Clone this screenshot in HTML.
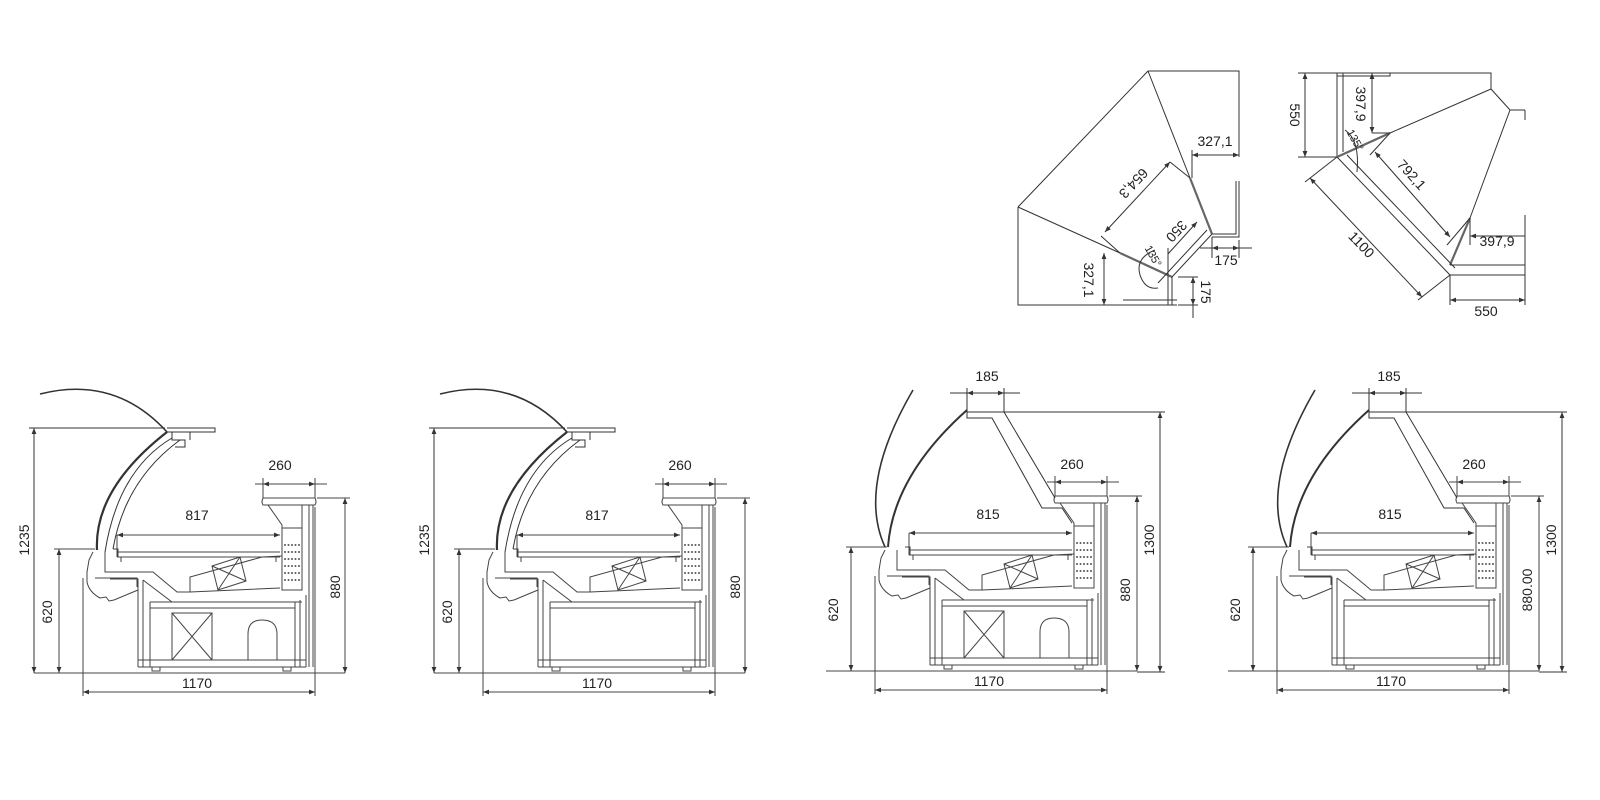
<!DOCTYPE html>
<html><head><meta charset="utf-8"><style>
html,body{margin:0;padding:0;background:#fff}
svg{display:block}
text{font-family:"Liberation Sans Narrow","Liberation Sans",sans-serif;font-size:14px;fill:#222}
</style></head><body>
<svg width="1600" height="800" viewBox="0 0 1600 800" xmlns="http://www.w3.org/2000/svg">
<defs>
<marker id="a" viewBox="0 0 10 10" refX="10" refY="5" markerWidth="7" markerHeight="6" orient="auto-start-reverse" markerUnits="userSpaceOnUse"><path d="M0,1 L10,5 L0,9 z" fill="#333"/></marker>
<g id="lower" fill="none" stroke="#444" stroke-width="1">
 <path d="M117,535 V557 M117,552 H280 M117,557 H280 M121,557 V562 M276,557 V562"/>
 <path d="M105,552 V572 H153 L177,592 H190 M113,549 H118 V557"/>
 <path d="M95,578 H137 V587 M143,580 L172,602 H302"/>
 <path d="M93,552 L89,560 L87,572 L87,582 Q89,592 100,598 L106,597 L109,601 L114,600 L138,590 V579 H110"/>
 <path d="M190,592 V577 L262,557 L282,556 M190,592 L280,588"/>
 <path d="M212,566 L240,557 L246,581 L218,590 Z M212,566 L246,581 M240,557 L218,590"/>
 <path d="M263,498 H315 Q317,502 315,505 H263 Q261,502 263,498 Z"/>
 <path d="M268,505 L282,525 V590 H302 V505 M282,528 H302 M309,505 V667 M313,505 V667"/>
 <path d="M138,587 V667 M143,580 V667 M150,602 V667 M150,602 H295 M150,608 H295 M295,602 V667 M300,600 V667 M306,595 V667 M138,660 H306 M138,667 H306"/>
 <path d="M152,667 h8 v4 h-8z M283,667 h8 v4 h-8z"/>
 <path d="M34,673 H345"/>
 <path d="M59,549 V673" marker-start="url(#a)" marker-end="url(#a)"/>
 <path d="M54,549 H95"/>
 <path d="M83,578 V696 M315,507 V696"/>
 <path d="M83,692 H315" marker-start="url(#a)" marker-end="url(#a)"/>
 <path d="M345,498 V673" marker-start="url(#a)" marker-end="url(#a)"/>
 <path d="M317,498 H350"/>
 <path d="M255,484 H263 M315,484 H327"/>
 <path d="M263,484 H315" marker-start="url(#a)" marker-end="url(#a)"/>
 <path d="M263,478 V498 M315,478 V498"/>
 <path d="M117,535 H280" marker-start="url(#a)" marker-end="url(#a)"/>
</g>
<g id="dots" fill="#555">
 <circle cx="285" cy="545" r="1"/><circle cx="288.5" cy="545" r="1"/><circle cx="292" cy="545" r="1"/><circle cx="295.5" cy="545" r="1"/><circle cx="299" cy="545" r="1"/>
 <circle cx="285" cy="552" r="1"/><circle cx="288.5" cy="552" r="1"/><circle cx="292" cy="552" r="1"/><circle cx="295.5" cy="552" r="1"/><circle cx="299" cy="552" r="1"/>
 <circle cx="285" cy="559" r="1"/><circle cx="288.5" cy="559" r="1"/><circle cx="292" cy="559" r="1"/><circle cx="295.5" cy="559" r="1"/><circle cx="299" cy="559" r="1"/>
 <circle cx="285" cy="566" r="1"/><circle cx="288.5" cy="566" r="1"/><circle cx="292" cy="566" r="1"/><circle cx="295.5" cy="566" r="1"/><circle cx="299" cy="566" r="1"/>
 <circle cx="285" cy="573" r="1"/><circle cx="288.5" cy="573" r="1"/><circle cx="292" cy="573" r="1"/><circle cx="295.5" cy="573" r="1"/><circle cx="299" cy="573" r="1"/>
 <circle cx="285" cy="580" r="1"/><circle cx="288.5" cy="580" r="1"/><circle cx="292" cy="580" r="1"/><circle cx="295.5" cy="580" r="1"/><circle cx="299" cy="580" r="1"/>
</g>
<g id="inside" fill="none" stroke="#444" stroke-width="1">
 <path d="M172,613 H212 V660 H172 Z M172,613 L212,660 M212,613 L172,660"/>
 <path d="M248,660 V634 Q248,620 262,620 Q277,620 277,634 V660"/>
</g>
<g id="top1" fill="none" stroke="#333">
 <path d="M40,394 Q115,375 167,432" stroke-width="1.6"/>
 <path d="M167,432 Q94,489 97,550" stroke-width="2.2"/>
 <path d="M172,438 Q118,470 105,552" stroke-width="1"/>
 <path d="M180,440 Q125,480 113,549" stroke-width="1"/>
 <path d="M167,428 H215 V432 H167 M172,432 V440 H185 V447 H175 M185,432 H190 V440" stroke-width="1"/>
 <path d="M34,428 V673" stroke-width="1" marker-start="url(#a)" marker-end="url(#a)"/>
 <path d="M29,428 H165" stroke-width="1"/>
</g>
<g id="top3" fill="none" stroke="#333">
 <path d="M913,390 Q857,486 885,547" stroke-width="1.6"/>
 <path d="M967,410 Q893,476 888,547" stroke-width="2"/>
 <path d="M967,412 V418 H992 L1042,508 H1062 L1072,523 M1004,412 L1055,498 M967,412 H1165" stroke-width="1"/>
 <path d="M967,388 V412 M1004,388 V412" stroke-width="1"/>
 <path d="M967,393 H1004" stroke-width="1" marker-start="url(#a)" marker-end="url(#a)"/>
 <path d="M950,393 H1020" stroke-width="1"/>
 <path d="M1160,412 V672" stroke-width="1" marker-start="url(#a)" marker-end="url(#a)"/>
 <path d="M1137,672 H1165" stroke-width="1"/>
</g>
</defs>

<use href="#lower"/><use href="#dots"/><use href="#inside"/><use href="#top1"/>
<text x="197" y="520" text-anchor="middle">817</text>
<text x="280" y="470" text-anchor="middle">260</text>
<text x="197" y="688" text-anchor="middle">1170</text>
<text transform="translate(52,612) rotate(-90)" text-anchor="middle">620</text>
<text transform="translate(29,540) rotate(-90)" text-anchor="middle">1235</text>
<text transform="translate(340,587) rotate(-90)" text-anchor="middle">880</text>

<g transform="translate(400,0)"><use href="#lower"/><use href="#dots"/><use href="#top1"/></g>
<text x="597" y="520" text-anchor="middle">817</text>
<text x="680" y="470" text-anchor="middle">260</text>
<text x="597" y="688" text-anchor="middle">1170</text>
<text transform="translate(452,612) rotate(-90)" text-anchor="middle">620</text>
<text transform="translate(429,540) rotate(-90)" text-anchor="middle">1235</text>
<text transform="translate(740,587) rotate(-90)" text-anchor="middle">880</text>

<g transform="translate(792,-2)"><use href="#lower"/><use href="#dots"/><use href="#inside"/></g>
<use href="#top3"/>
<text x="988" y="519" text-anchor="middle">815</text>
<text x="1072" y="469" text-anchor="middle">260</text>
<text x="987" y="381" text-anchor="middle">185</text>
<text x="989" y="686" text-anchor="middle">1170</text>
<text transform="translate(838,610) rotate(-90)" text-anchor="middle">620</text>
<text transform="translate(1130,590) rotate(-90)" text-anchor="middle">880</text>
<text transform="translate(1154,540) rotate(-90)" text-anchor="middle">1300</text>

<g transform="translate(1194,-2)"><use href="#lower"/><use href="#dots"/></g>
<g transform="translate(402,0)"><use href="#top3"/></g>
<text x="1390" y="519" text-anchor="middle">815</text>
<text x="1474" y="469" text-anchor="middle">260</text>
<text x="1389" y="381" text-anchor="middle">185</text>
<text x="1391" y="686" text-anchor="middle">1170</text>
<text transform="translate(1240,610) rotate(-90)" text-anchor="middle">620</text>
<text transform="translate(1532,590) rotate(-90)" text-anchor="middle">880.00</text>
<text transform="translate(1556,540) rotate(-90)" text-anchor="middle">1300</text>

<g fill="none" stroke="#333" stroke-width="1">
 <path d="M1148,71 H1239 V157 M1239,181 V237 H1212 M1212,234 H1236 V181"/>
 <path d="M1018,207 L1148,71 M1018,207 V305 H1177 M1018,207 L1120,253 M1148,71 L1190,178"/>
 <path d="M1190,178 L1212,234" stroke-width="2.2" stroke="#666"/>
 <path d="M1120,253 L1172,277" stroke-width="2.2" stroke="#666"/>
 <path d="M1212,234 L1172,277 M1207,230 L1158,283 M1172,277 V305 M1168,248 V305 M1123,300 H1177"/>
 <path d="M1105,232 L1170,162" marker-start="url(#a)" marker-end="url(#a)"/>
 <path d="M1190,178 L1170,162 M1120,253 L1101,236"/>
 <path d="M1197,222 L1168,254" marker-start="url(#a)"/>
 <path d="M1192,155 H1239" marker-start="url(#a)" marker-end="url(#a)"/>
 <path d="M1192,150 V178"/>
 <path d="M1212,248 H1239" marker-start="url(#a)" marker-end="url(#a)"/>
 <path d="M1212,237 V258 M1239,240 V258 M1200,248 H1252"/>
 <path d="M1104,253 V305" marker-start="url(#a)" marker-end="url(#a)"/>
 <path d="M1193,277 V305" marker-start="url(#a)" marker-end="url(#a)"/>
 <path d="M1178,277 H1198 M1178,305 H1198 M1193,305 V318"/>
 <path d="M1155,250 Q1135,258 1140,275 Q1145,290 1158,288"/>
</g>
<text transform="translate(1130,180) rotate(133)" text-anchor="middle">654,3</text>
<text transform="translate(1173,228) rotate(133)" text-anchor="middle">350</text>
<text x="1215" y="146" text-anchor="middle">327,1</text>
<text x="1226" y="265" text-anchor="middle">175</text>
<text transform="translate(1084,280) rotate(90)" text-anchor="middle">327,1</text>
<text transform="translate(1201,292) rotate(90)" text-anchor="middle">175</text>
<text transform="translate(1150,258) rotate(60)" text-anchor="middle" style="font-size:11px">135°</text>

<g fill="none" stroke="#333" stroke-width="1">
 <path d="M1337,73 H1491 V89 L1510,110 H1525 M1337,73 V157 M1343,73 V152 M1337,73 H1390 V76 H1337"/>
 <path d="M1390,133 L1491,89 M1510,110 L1470,218"/>
 <path d="M1337,157 L1390,133" stroke-width="2.2" stroke="#666"/>
 <path d="M1470,218 L1450,265" stroke-width="2.2" stroke="#666"/>
 <path d="M1337,157 L1450,275 M1347,155 L1455,268 M1450,265 H1525 M1450,275 H1525 V265 M1525,215 V265 M1525,110 V120"/>
 <path d="M1305,73 V157" marker-start="url(#a)" marker-end="url(#a)"/>
 <path d="M1298,73 H1337 M1298,157 H1337"/>
 <path d="M1372,73 V133" marker-start="url(#a)" marker-end="url(#a)"/>
 <path d="M1372,133 H1390"/>
 <path d="M1375,152 L1450,237" marker-start="url(#a)" marker-end="url(#a)"/>
 <path d="M1390,133 L1370,155 M1470,218 L1447,245"/>
 <path d="M1310,178 L1422,297" marker-start="url(#a)" marker-end="url(#a)"/>
 <path d="M1337,157 L1305,182 M1450,275 L1418,300"/>
 <path d="M1470,236 H1525" marker-start="url(#a)"/>
 <path d="M1470,218 V245"/>
 <path d="M1450,300 H1525" marker-start="url(#a)" marker-end="url(#a)"/>
 <path d="M1450,275 V305 M1525,275 V305"/>
 <path d="M1345,130 Q1360,140 1357,172"/>
</g>
<text transform="translate(1290,115) rotate(90)" text-anchor="middle">550</text>
<text transform="translate(1356,104) rotate(90)" text-anchor="middle">397,9</text>
<text transform="translate(1408,178) rotate(48)" text-anchor="middle">792,1</text>
<text transform="translate(1358,248) rotate(46)" text-anchor="middle">1100</text>
<text x="1497" y="246" text-anchor="middle">397,9</text>
<text x="1486" y="316" text-anchor="middle">550</text>
<text transform="translate(1352,142) rotate(60)" text-anchor="middle" style="font-size:11px">135°</text>
</svg>
</body></html>
